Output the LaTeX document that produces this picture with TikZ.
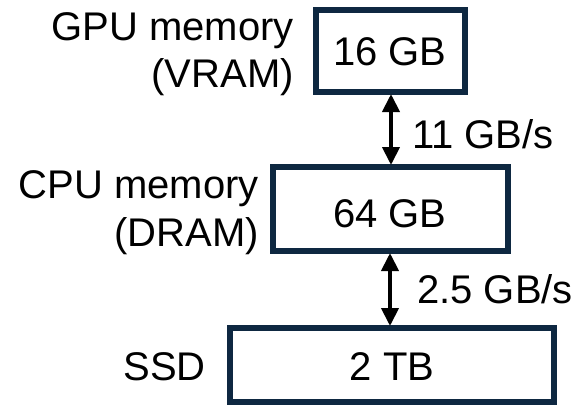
\documentclass[tikz,border=0pt]{standalone}
\usepackage{fontspec}
\setmainfont{Liberation Sans}
\usetikzlibrary{arrows.meta}
\definecolor{boxblue}{HTML}{0E2841}
\begin{document}
\begin{tikzpicture}[x=1pt,y=-1pt,
  membox/.style={draw=boxblue,line width=6pt,fill=white,inner sep=0pt},
  txt/.style={inner sep=0pt,font=\fontsize{40}{46}\selectfont},
  link/.style={line width=4pt,{Triangle[width=17pt,length=18pt]}-{Triangle[width=17pt,length=18pt]},shorten <=-1pt,shorten >=-1pt}]
\useasboundingbox (0,0) rectangle (581,410);
\node[membox,minimum width=149pt,minimum height=82pt] (b1) at (390.5,51) {};
\node[membox,minimum width=235pt,minimum height=84pt] (b2) at (390.5,209) {};
\node[membox,minimum width=324pt,minimum height=74pt] (b3) at (392,365) {};
\node[txt,anchor=base] (t1) at (390,65) {16 GB};
\node[txt,anchor=base] (t2) at (390,227) {64 GB};
\node[txt,anchor=base] (t3) at (392,380) {2 TB};
\node[txt,anchor=base east] (l1a) at (294,40) {GPU memory};
\node[txt,anchor=base east] (l1b) at (294,87) {(VRAM)};
\node[txt,anchor=base east] (l2a) at (259,198) {CPU memory};
\node[txt,anchor=base east] (l2b) at (259,246) {(DRAM)};
\node[txt,anchor=base east] (l3) at (206,380) {SSD};
\coordinate (a1t) at (391,95);
\coordinate (a1b) at (391,164);
\coordinate (a2t) at (390,254);
\coordinate (a2b) at (390,325);
\draw[link] (b1.south -| a1t) -- (b2.north -| a1b);
\draw[link] (b2.south -| a2t) -- (b3.north -| a2b);
\node[txt,anchor=base west] (r1) at (412,148) {11 GB/s};
\node[txt,anchor=base west] (r2) at (417,303) {2.5 GB/s};
\end{tikzpicture}
\end{document}
